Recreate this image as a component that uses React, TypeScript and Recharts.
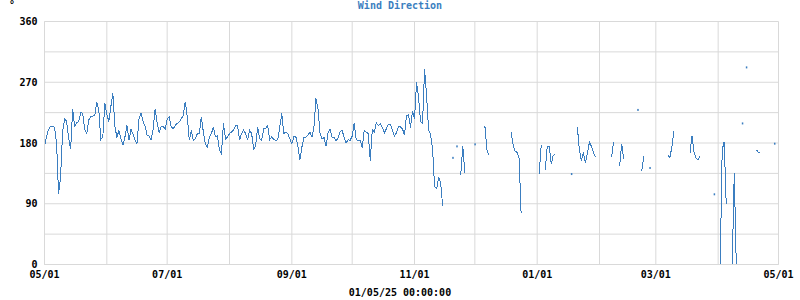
import { LineChart, Line, XAxis, YAxis, CartesianGrid } from 'recharts';

// daily wind direction (deg), day 0 = 05/01, null = no reading
const dirValues: (number | null)[] = [
	176, 189, 200, 205, 205, 203, 180, 104, 130, 196,
	216, 212, 188, 171, 230, 205, 210, 212, 225, 224,
	200, 194, 214, 219, 220, 221, 240, 229, 185, 189,
	239, 222, 212, 234, 254, 204, 189, 198, 186, 177,
	189, 206, 184, 200, 193, 184, 179, 215, 225, 212,
	205, 192, 190, 185, 200, 230, 210, 195, 204, 205,
	200, 215, 219, 204, 201, 206, 209, 211, 216, 221,
	241, 219, 184, 199, 184, 186, 194, 194, 219, 196,
	179, 174, 189, 194, 204, 189, 191, 169, 164, 209,
	186, 189, 194, 196, 199, 206, 206, 184, 194, 199,
	194, 184, 199, 194, 171, 176, 204, 186, 184, 201,
	201, 206, 185, 189, 185, 184, 185, 204, 224, 194,
	196, 194, 186, 179, 189, 189, 176, 155, 174, 188,
	189, 192, 196, 189, 204, 246, 230, 195, 186, 188,
	175, 195, 200, 188, 189, 183, 188, 197, 199, 188,
	180, 185, 184, 190, 210, 185, 184, 184, 173, 199,
	196, 194, 154, 200, 196, 210, 206, 208, 203, 195,
	201, 208, 208, 199, 190, 195, 204, 204, 201, 192,
	220, 222, 203, 228, 215, 270, 248, 212, 209, 290,
	250, 200, 192, 170, 115, 112, 130, 120, 87, null,
	null, null, null, 158, null, 175, null, 133, 176, 136,
	null, null, null, null, 178, null, null, null, null, 205,
	170, 162, null, null, null, null, null, null, null, null,
	null, null, 196, 178, 168, 166, 158, 76, null, null,
	null, null, null, null, null, null, 134, 177, null, 140,
	175, 175, 149, 162, 163, null, null, null, null, null,
	null, null, 134, null, null, 203, 169, 154, 166, 150,
	166, 181, 175, 166, 159, null, null, null, null, null,
	null, null, 159, 182, null, null, 146, 179, 156, null,
	null, null, null, null, null, 229, null, 139, 160, null,
	null, 143, null, null, null, null, null, null, null, null,
	162, 158, 175, 197, null, null, null, null, null, null,
	null, 166, 190, 166, 158, 155, 160, null, null, null,
	null, null, null, 104, null, null, 0, 170, 182, 90,
	null, null, 0, 135, 0, null, null, 209, null, 292,
	null, null, null, null, 170, 166, 167, null, null, null,
	null, null, null, 179, null, null,
];

const monthTicks = [0, 31, 61, 92, 123, 153, 184, 214, 245, 276, 304, 335, 365];
const monthLabels = ['05/01', '', '07/01', '', '09/01', '', '11/01', '', '01/01', '', '03/01', '', '05/01'];
const degreeTicks = [0, 45, 90, 135, 180, 225, 270, 315, 360];
const degreeLabels = ['0', '', '90', '', '180', '', '270', '', '360'];

const data = dirValues.map((dir, day) => ({ day, dir }));

const FONT = '"DejaVu Sans Mono", monospace';
const LINE = '#3b7ec0';
const GRID = '#d9d9d9';

const tickStyle = { fill: '#000', fontSize: 10, fontWeight: 'bold', fontFamily: FONT };

// only single readings with no neighbours get a dot, like the original
const IsolatedDot = (props: any) => {
	const { cx, cy, index } = props;
	const prev = index > 0 ? dirValues[index - 1] : null;
	const next = index < dirValues.length - 1 ? dirValues[index + 1] : null;
	if (dirValues[index] == null || prev != null || next != null || cx == null || cy == null) {
		return <g key={'d' + index} />;
	}
	return <rect key={'d' + index} x={cx - 0.5} y={cy - 1} width={1.5} height={2} fill={LINE} />;
};

const textStyle = {
	position: 'absolute' as const,
	fontFamily: FONT,
	fontWeight: 'bold' as const,
	fontSize: 10,
	lineHeight: '10px',
	whiteSpace: 'nowrap' as const,
};

export default function App() {
	return (
		<div style={{ position: 'absolute', left: 0, top: 0, width: 800, height: 300, background: '#fff' }}>
			<LineChart
				width={800}
				height={300}
				data={data}
				margin={{ top: 21.5, right: 21.5, bottom: 0, left: 0 }}
			>
				<CartesianGrid stroke={GRID} />
				<XAxis
					type='number'
					dataKey='day'
					domain={[0, 365]}
					ticks={monthTicks}
					interval={0}
					tickFormatter={(v: number) => monthLabels[monthTicks.indexOf(v)] ?? ''}
					tickLine={false}
					tickSize={0}
					tickMargin={6}
					axisLine={{ stroke: GRID }}
					height={35.5}
					tick={tickStyle}
				/>
				<YAxis
					type='number'
					domain={[0, 360]}
					ticks={degreeTicks}
					interval={0}
					tickFormatter={(v: number) => degreeLabels[degreeTicks.indexOf(v)] ?? ''}
					tickLine={false}
					tickSize={0}
					tickMargin={7}
					axisLine={{ stroke: GRID }}
					width={44.5}
					tick={tickStyle}
				/>
				<Line
					type='linear'
					dataKey='dir'
					stroke={LINE}
					strokeWidth={1}
					shapeRendering='crispEdges'
					dot={(p: any) => <IsolatedDot {...p} />}
					activeDot={false}
					connectNulls={false}
					isAnimationActive={false}
				/>
			</LineChart>
			<div style={{ ...textStyle, left: 9, top: 0, color: '#000' }}>°</div>
			<div style={{ ...textStyle, left: 0, width: 800, top: 1, textAlign: 'center', color: LINE }}>
				Wind Direction
			</div>
			<div style={{ ...textStyle, left: 0, width: 800, top: 288, textAlign: 'center', color: '#000' }}>
				01/05/25 00:00:00
			</div>
		</div>
	);
}
